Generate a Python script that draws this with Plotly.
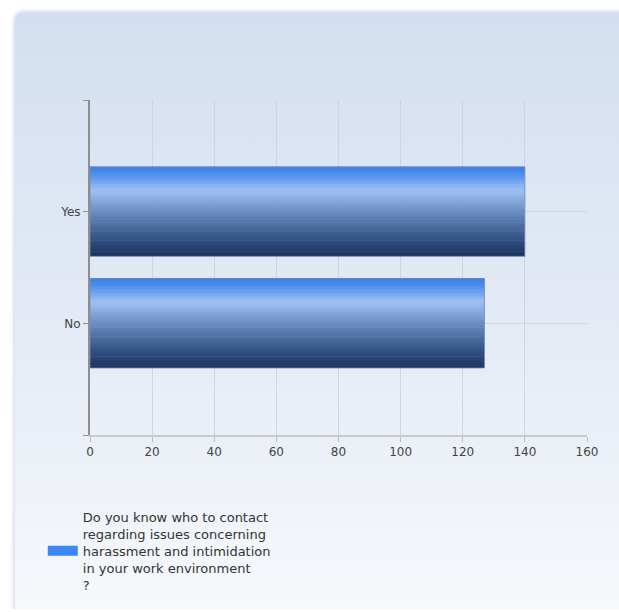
import base64
import plotly.graph_objects as go

# ---- data ----
categories = ["No", "Yes"]          # bottom to top
values = [127, 140]
x_ticks = [0, 20, 40, 60, 80, 100, 120, 140, 160]
series_name = ("Do you know who to contact<br>regarding issues concerning<br>"
               "harassment and intimidation<br>in your work environment<br>?")

# ---- geometry (pixels) ----
W, H = 619, 612
L, R, T, B = 90, 32, 100, 175
pw, ph = W - L - R, H - T - B

def hex2rgb(h):
    h = h.lstrip("#")
    return tuple(int(h[i:i + 2], 16) for i in (0, 2, 4))

stops = [(0.0, "#3b7de6"), (0.08, "#4a8cec"), (0.27, "#9ec1f4"),
         (0.5, "#6c8ec4"), (0.78, "#38578a"), (1.0, "#1b335f")]

def grad(t):
    for (t0, c0), (t1, c1) in zip(stops[:-1], stops[1:]):
        if t0 <= t <= t1:
            a, b = hex2rgb(c0), hex2rgb(c1)
            f = (t - t0) / (t1 - t0) if t1 > t0 else 0
            return "rgb(%d,%d,%d)" % tuple(round(a[i] + (b[i] - a[i]) * f) for i in range(3))
    return stops[-1][1]

pos = list(range(len(categories)))
bw = 0.8
N = 40
sw = bw / N

fig = go.Figure()
for i in range(N):
    t = (i + 0.5) / N
    fig.add_trace(go.Bar(
        x=values, y=pos, orientation="h",
        width=sw * 1.25, offset=bw / 2 - (i + 1) * sw,
        marker=dict(color=grad(t), line=dict(width=0)),
        showlegend=False, hoverinfo="skip"))
# outline
fig.add_trace(go.Bar(
    x=values, y=pos, orientation="h", width=bw,
    marker=dict(color="rgba(0,0,0,0)", line=dict(width=1, color="rgba(120,140,175,0.8)")),
    showlegend=False, hoverinfo="skip"))
# legend entry
fig.add_trace(go.Scatter(
    x=[None], y=[None], mode="lines", name=series_name,
    line=dict(color="#3b86f0", width=12), showlegend=True))

# ---- background panel via SVG image ----
svg = f'''<svg xmlns="http://www.w3.org/2000/svg" width="{W}" height="{H}" viewBox="0 0 {W} {H}" preserveAspectRatio="none">
<defs>
<linearGradient id="g" x1="0" y1="0" x2="0" y2="1">
<stop offset="0" stop-color="#d3dff0"/>
<stop offset="0.45" stop-color="#e3eaf5"/>
<stop offset="1" stop-color="#fafbfd"/>
</linearGradient>
<filter id="f" x="-5%" y="-5%" width="110%" height="110%"><feGaussianBlur stdDeviation="2"/></filter>
</defs>
<rect x="14" y="11" width="660" height="660" rx="9" fill="#c9d3e2" filter="url(#f)"/>
<rect x="15" y="12" width="660" height="660" rx="8" fill="url(#g)"/>
</svg>'''
src = "data:image/svg+xml;base64," + base64.b64encode(svg.encode()).decode()

fig.add_layout_image(dict(
    source=src, xref="paper", yref="paper",
    x=-L / pw, y=1 + T / ph, sizex=W / pw, sizey=H / ph,
    xanchor="left", yanchor="top", sizing="stretch", layer="below"))

fig.update_layout(
    width=W, height=H,
    margin=dict(l=L, r=R, t=T, b=B),
    paper_bgcolor="white", plot_bgcolor="rgba(0,0,0,0)",
    barmode="overlay",
    font=dict(family="DejaVu Sans, sans-serif", size=12, color="#444"),
    xaxis=dict(range=[0, 160], tickvals=x_ticks, ticks="outside", ticklen=5,
               tickcolor="#b8bcc4", showgrid=True, gridcolor="rgba(200,207,218,0.8)",
               gridwidth=1, showline=True, linecolor="#c6c9ce", linewidth=2,
               zeroline=False, fixedrange=True),
    yaxis=dict(range=[-1, 2], tickvals=[-1] + pos + [2],
               ticktext=[""] + categories + [""], ticks="outside", ticklen=5,
               tickcolor="#909090", showgrid=True, gridcolor="rgba(200,207,218,0.8)",
               gridwidth=1, showline=True, linecolor="#8e8e8e", linewidth=2,
               zeroline=False, fixedrange=True),
    showlegend=True,
    legend=dict(x=-0.095, y=-0.2, xanchor="left", yanchor="top",
                bgcolor="rgba(0,0,0,0)", font=dict(size=13, color="#333"),
                itemwidth=30),
)

fig.write_html("out.html")
